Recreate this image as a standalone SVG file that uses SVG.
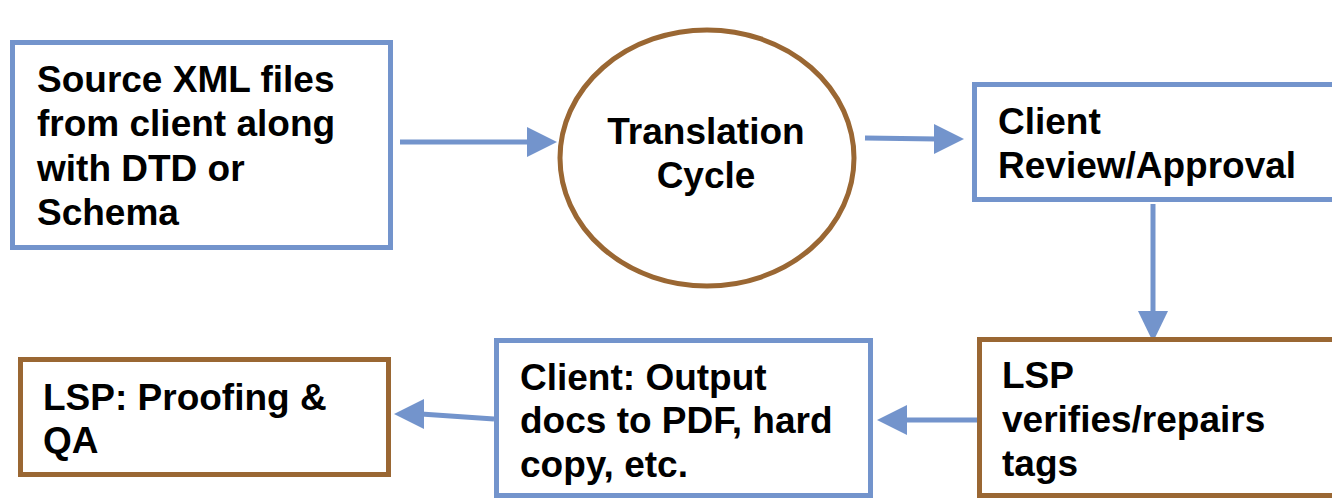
<svg xmlns="http://www.w3.org/2000/svg" width="1332" height="499" viewBox="0 0 1332 499">
<defs>
<style>
.blue{fill:#fff;stroke:#7394CC;stroke-width:5}
.brown{fill:#fff;stroke:#9A6733;stroke-width:5}
.t{font-family:"Liberation Sans",Arial,sans-serif;font-weight:bold;font-size:37px;fill:#000}
.c{stroke:#7394CC;stroke-width:5;fill:none}
.h{fill:#7394CC;stroke:none}
</style>
</defs>
<rect width="1332" height="499" fill="#fff"/>
<g id="connectors">
<line class="c" x1="400" y1="142" x2="530" y2="142"/>
<polygon class="h" points="557,142 527,127 527,157"/>
<line class="c" x1="865" y1="138" x2="937" y2="139"/>
<polygon class="h" points="964,139 934,124 934,154"/>
<line class="c" x1="1153" y1="204" x2="1153" y2="314"/>
<polygon class="h" points="1153,342 1138,311 1168,311"/>
<line class="c" x1="977" y1="420" x2="904" y2="420"/>
<polygon class="h" points="877,420 907,405 907,435"/>
<line class="c" x1="494" y1="419" x2="421" y2="414"/>
<polygon class="h" points="394,414 424,399 424,429"/>
</g>
<g id="source">
<rect class="blue" x="12.5" y="42.5" width="378" height="205"/>
<text class="t" x="37" y="92">Source XML files</text>
<text class="t" x="37" y="136">from client along</text>
<text class="t" x="37" y="181">with DTD or</text>
<text class="t" x="37" y="225">Schema</text>
</g>
<g id="translation">
<ellipse class="brown" cx="707" cy="158" rx="147" ry="128"/>
<text class="t" x="706" y="144" text-anchor="middle">Translation</text>
<text class="t" x="706" y="188" text-anchor="middle">Cycle</text>
</g>
<g id="review">
<rect class="blue" x="974.5" y="84.5" width="400" height="115"/>
<text class="t" x="998" y="134">Client</text>
<text class="t" x="998" y="178">Review/Approval</text>
</g>
<g id="verify">
<rect class="brown" x="979.5" y="339.5" width="400" height="156"/>
<text class="t" x="1002" y="388">LSP</text>
<text class="t" x="1002" y="432">verifies/repairs</text>
<text class="t" x="1002" y="476">tags</text>
</g>
<g id="output">
<rect class="blue" x="496.5" y="340.5" width="374" height="155"/>
<text class="t" x="520" y="390">Client: Output</text>
<text class="t" x="520" y="433">docs to PDF, hard</text>
<text class="t" x="520" y="477">copy, etc.</text>
</g>
<g id="proofing">
<rect class="brown" x="20.5" y="359.5" width="368" height="115"/>
<text class="t" x="43" y="410">LSP: Proofing &amp;</text>
<text class="t" x="43" y="453">QA</text>
</g>
</svg>
